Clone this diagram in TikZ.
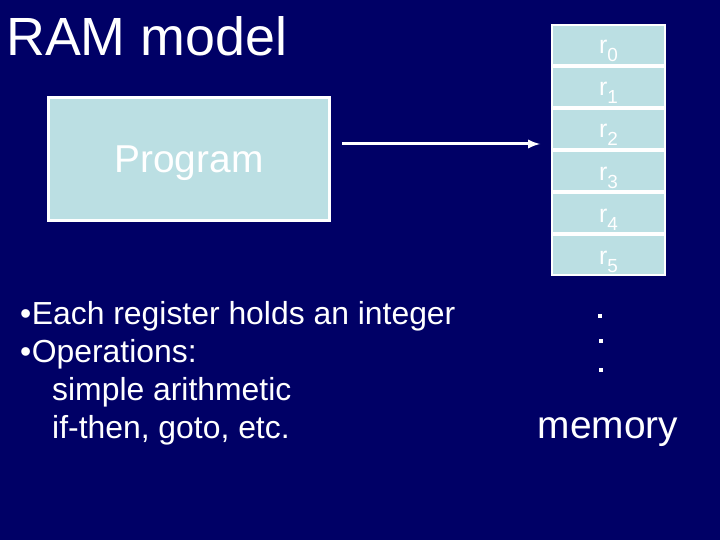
\documentclass[tikz,border=0pt]{standalone}
\usepackage{fontspec}
\setmainfont{Liberation Sans}
\usepackage{tikz}
\usetikzlibrary{arrows, positioning}
\definecolor{slidenavy}{RGB}{0,0,102}
\definecolor{slidecyan}{RGB}{187,223,227}
\newcommand{\regname}[1]{r\raisebox{-8bp}{\fontsize{19}{19}\selectfont #1}}

\begin{document}
\begin{tikzpicture}[x=1bp, y=-1bp,
    title/.style={anchor=base west, inner sep=0, text=white, font=\fontsize{54}{60}\selectfont},
    program/.style={rectangle, draw=white, fill=slidecyan, line width=3bp, minimum width=281bp, minimum height=123bp, text depth=0pt, text=white, font=\fontsize{39}{44}\selectfont},
    reg/.style={rectangle, draw=white, fill=slidecyan, line width=2bp, minimum width=113bp, minimum height=40bp, inner sep=0, text height=18bp, text depth=0pt, text=white, font=\fontsize{25}{28}\selectfont},
    notes/.style={anchor=base west, inner sep=0, align=left, text=white, font=\fontsize{32}{38}\selectfont},
    caption/.style={anchor=base, inner sep=0, text=white, font=\fontsize{39}{44}\selectfont},
    dot/.style={rectangle, fill=white, minimum size=3.5bp, inner sep=0},
    link/.style={->, >=latex, white, line width=3bp}]

\fill[slidenavy] (0,0) rectangle (720,540);
\useasboundingbox (0,0) rectangle (720,540);

\node[title] (ram) at (6,56) {RAM model};
\node[program] (prog) at (189,159) {Program};

\node[reg] (r0) at (608.5,45) {\regname{0}};
\foreach \i [remember=\i as \j (initially 0)] in {1,...,5}
    \node[reg, below=0pt of r\j] (r\i) {\regname{\i}};

\node[dot] (dot1) at (600,316) {};
\node[dot] (dot2) at (601,341) {};
\node[dot] (dot3) at (601,370) {};
\node[caption] (mem) at (608,438) {memory};

\node[notes] (bullets) at (20,438) {\textbullet\hspace{0.5bp}Each register holds an integer\\
\textbullet\hspace{0.5bp}Operations:\\
\hspace*{32bp}simple arithmetic\\
\hspace*{32bp}if-then, goto, etc.};

\coordinate (tail) at (342,144);
\coordinate (head) at (540,144);
\draw[link] (tail) -- (head);
\end{tikzpicture}
\end{document}
